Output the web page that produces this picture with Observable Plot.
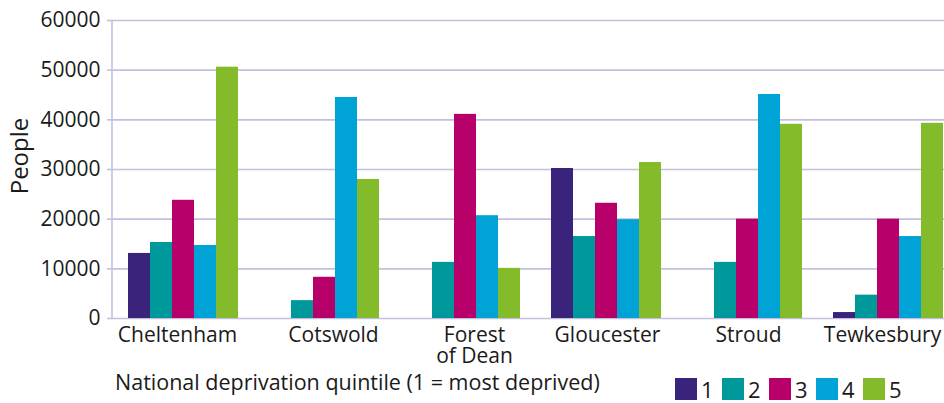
<!DOCTYPE html>
<html>
<head>
<meta charset="utf-8">
<script src="https://cdn.jsdelivr.net/npm/d3@7"></script>
<script src="https://cdn.jsdelivr.net/npm/@observablehq/plot@0.6"></script>
<style>
  html, body { margin: 0; padding: 0; background: #fff; overflow: hidden; }
  body { width: 944px; height: 403px; font-family: "Open Sans", sans-serif; color: #1a1a1a; }
  #chart { position: relative; width: 944px; height: 370px; }
  #chart svg { position: absolute; left: 0; top: 0; overflow: hidden; }
  #ylabel { position: absolute; left: 18px; top: 156px; transform: translate(-50%, -50%) rotate(-90deg);
            font-size: 24px; font-weight: 500; white-space: nowrap; }
  #legend { position: relative; width: 944px; height: 33px; font-size: 21.5px; }
  #legend .note { position: absolute; left: 115px; top: -3px; white-space: nowrap; line-height: 30px; }
  #legend .items { position: absolute; left: 675px; top: 8px; display: flex; align-items: center; }
  #legend .item { display: flex; align-items: center; margin-right: 8px; }
  #legend .sw { width: 22px; height: 22px; margin-right: 4px; }
  #legend .lab { font-size: 22px; line-height: 22px; width: 13px; }
</style>
</head>
<body>
<div id="chart"><div id="ylabel">People</div></div>
<div id="legend"></div>
<script>
const districts = ["Cheltenham", "Cotswold", "Forest of Dean", "Gloucester", "Stroud", "Tewkesbury"];
const districtLabels = ["Cheltenham", "Cotswold", "Forest\nof Dean", "Gloucester", "Stroud", "Tewkesbury"];
const quintiles = ["1", "2", "3", "4", "5"];
const q1 = [13100, 0, 0, 30200, 0, 1200];
const q2 = [15300, 3600, 11300, 16500, 11300, 4700];
const q3 = [23800, 8300, 41100, 23200, 20000, 20000];
const q4 = [14700, 44500, 20700, 19900, 45100, 16500];
const q5 = [50600, 28000, 10100, 31400, 39100, 39300];
const yTicks = [0, 10000, 20000, 30000, 40000, 50000, 60000];
const colors = ["#3a237a", "#00999b", "#b8006b", "#00a3d5", "#84bb2a"];
const noteText = "National deprivation quintile (1 = most deprived)";

const series = [q1, q2, q3, q4, q5];
const data = [];
districts.forEach((d, i) => quintiles.forEach((q, j) => data.push({district: d, quintile: q, value: series[j][i]})));
const labelOf = Object.fromEntries(districts.map((d, i) => [d, districtLabels[i]]));

const W = 944, H = 370;
const common = {
  width: W, height: H,
  marginLeft: 112, marginRight: -14, marginTop: 20, marginBottom: 52,
  style: {fontFamily: "'Open Sans', sans-serif", fontSize: "21px", color: "#1a1a1a", background: "transparent", overflow: "hidden"}
};
const grid = "#c4bfdc";
const xAxisOpts = {tickSize: 0, tickPadding: 9, tickFormat: d => labelOf[d], fill: "#1a1a1a", label: null, lineHeight: 1.0};

const back = Plot.plot({
  ...common,
  x: {domain: districts, paddingInner: 0.22, paddingOuter: 0.11, axis: null},
  y: {domain: [0, 60000], axis: null},
  marks: [
    Plot.ruleY(yTicks, {stroke: grid, strokeWidth: 1.6}),
    Plot.axisY({ticks: yTicks, tickSize: 5, tickPadding: 7, stroke: grid, strokeWidth: 1.6, fill: "#1a1a1a", tickFormat: d3.format("d"), label: null}),
    Plot.axisX([districts[0], districts[5]], {...xAxisOpts, dx: -6}),
    Plot.axisX([districts[1], districts[2]], {...xAxisOpts, dx: 9}),
    Plot.axisX([districts[3], districts[4]], {...xAxisOpts, dx: 1}),
    (index, scales, values, dims) => {
      const line = document.createElementNS("http://www.w3.org/2000/svg", "line");
      line.setAttribute("x1", dims.marginLeft); line.setAttribute("x2", dims.marginLeft);
      line.setAttribute("y1", scales.y(60000)); line.setAttribute("y2", scales.y(0));
      line.setAttribute("stroke", grid); line.setAttribute("stroke-width", 1.6);
      return line;
    }
  ]
});

const bars = Plot.plot({
  ...common,
  fx: {domain: districts, paddingInner: 0.22, paddingOuter: 0.11, axis: null, label: null},
  x: {domain: quintiles, padding: 0, axis: null},
  y: {domain: [0, 60000], axis: null},
  color: {domain: quintiles, range: colors},
  marks: [
    Plot.barY(data, {fx: "district", x: "quintile", y: "value", fill: "quintile"})
  ]
});

const chart = document.getElementById("chart");
chart.insertBefore(back, chart.firstChild);
chart.insertBefore(bars, document.getElementById("ylabel"));

const legend = document.getElementById("legend");
const note = document.createElement("div");
note.className = "note"; note.textContent = noteText;
legend.appendChild(note);
const items = document.createElement("div");
items.className = "items";
quintiles.forEach((q, i) => {
  const it = document.createElement("div"); it.className = "item";
  const sw = document.createElement("div"); sw.className = "sw"; sw.style.background = colors[i];
  const lab = document.createElement("div"); lab.className = "lab"; lab.textContent = q;
  it.appendChild(sw); it.appendChild(lab); items.appendChild(it);
});
legend.appendChild(items);
</script>
</body>
</html>
